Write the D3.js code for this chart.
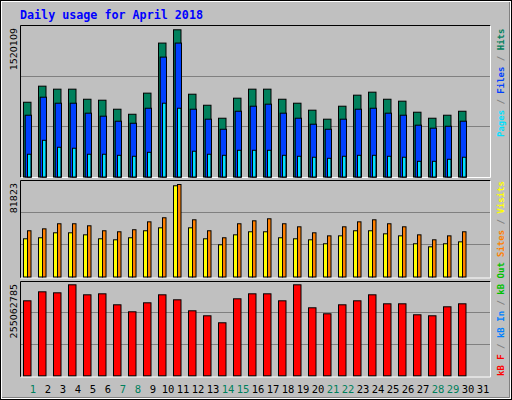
<!DOCTYPE html>
<html><head><meta charset="utf-8">
<script src="https://cdn.jsdelivr.net/npm/d3@7"></script>
<style>body{margin:0;background:#fff}svg{display:block}</style>
</head><body>
<svg id="chart" width="512" height="400"></svg>
<script>
// values, days 1..30
var days = d3.range(1, 32);
var weekends = [1, 7, 8, 14, 15, 21, 22, 28, 29];
var hits = [772000, 938000, 907000, 907000, 803000, 793000, 700000, 648000, 866000, 1383000,
  1520109, 855000, 741000, 607000, 814000, 907000, 907000, 803000, 762000, 690000,
  597000, 731000, 845000, 876000, 803000, 783000, 669000, 607000, 638000, 679000];
var files = [638000, 824000, 762000, 762000, 659000, 628000, 576000, 555000, 710000, 1238000,
  1383000, 700000, 597000, 493000, 679000, 731000, 752000, 659000, 607000, 545000,
  493000, 597000, 700000, 710000, 659000, 638000, 535000, 504000, 524000, 576000];
var pages = [235000, 379000, 307000, 297000, 235000, 235000, 224000, 214000, 255000, 762000,
  710000, 266000, 235000, 224000, 276000, 276000, 276000, 224000, 214000, 204000,
  193000, 214000, 224000, 224000, 214000, 204000, 162000, 162000, 183000, 204000];
var visits = [33800, 34700, 39100, 39100, 37300, 33800, 32900, 34700, 40900, 43500,
  80700, 43500, 33800, 28500, 37300, 40000, 40000, 34700, 33800, 32900,
  29400, 36400, 40900, 40900, 38200, 36400, 29400, 26700, 29400, 31100];
var sites = [40900, 42600, 47100, 47100, 45300, 40900, 40000, 41800, 48800, 52400,
  81823, 50600, 40900, 34700, 47100, 49700, 51500, 47100, 44400, 39100,
  36400, 44400, 48800, 50600, 47100, 44400, 37300, 32900, 36400, 40000];
var kbytes = [210.2, 235.4, 232.6, 255.06, 227.0, 229.8, 199.0, 179.4, 204.6, 227.0,
  213.0, 182.2, 168.2, 148.6, 215.8, 229.8, 229.8, 210.2, 255.06, 190.6,
  173.8, 199.0, 210.2, 227.0, 201.8, 201.8, 171.0, 168.2, 193.4, 201.8].map(function (v) { return v * 1e6; });
var maxLabels = ["1520109", "81823", "255062785"];

var svg = d3.select("#chart");
var mono = "'DejaVu Sans Mono', monospace";

// frame
svg.append("rect").attr("x", 0).attr("y", 0).attr("width", 512).attr("height", 400).attr("fill", "#000");
svg.append("rect").attr("x", 1).attr("y", 1).attr("width", 510).attr("height", 398).attr("fill", "#fff");
svg.append("rect").attr("x", 2).attr("y", 2).attr("width", 508).attr("height", 396).attr("fill", "#c0c0c0");
svg.append("path").attr("d", "M2,397.5H509.5V2").attr("stroke", "#808080").attr("fill", "none");

svg.append("text").attr("x", 20).attr("y", 19).attr("fill", "#0000ff")
  .attr("font-family", mono).attr("font-weight", "bold").attr("font-size", 11.7)
  .text("Daily usage for April 2018");

var x = d3.scaleBand().domain(days).range([23, 488]).paddingInner(0);

var panels = [
  {top: 25, bottom: 177, base: 176.5, peak: 29.3, max: 1520109, label: maxLabels[0],
   series: [[hits, "#00805c", 0, 7.5], [files, "#0040ff", 1.7, 8], [pages, "#00e0ff", 4, 7.5]],
   legend: [["Pages", "#00e0ff"], [" / ", "#808080"], ["Files", "#0040ff"], [" / ", "#808080"], ["Hits", "#00805c"]], legendY: 137},
  {top: 180, bottom: 277.5, base: 276.5, peak: 184, max: 81823, label: maxLabels[1],
   series: [[visits, "#ffff00", 0, 4], [sites, "#ff8000", 4, 7.5]],
   legend: [["Sites", "#ff8000"], [" / ", "#808080"], ["Visits", "#ffff00"]], legendY: 257},
  {top: 281, bottom: 376.5, base: 375.3, peak: 284.3, max: 255062785, label: maxLabels[2],
   series: [[kbytes, "#ff0000", 0, 7.5]],
   legend: [["kB F", "#ff0000"], [" / ", "#808080"], ["kB In", "#0080ff"], [" / ", "#808080"], ["kB Out", "#00c000"]], legendY: 376}
];

panels.forEach(function (p) {
  var g = svg.append("g");
  g.append("rect").attr("x", 20.5).attr("y", p.top + 0.5).attr("width", 470).attr("height", p.bottom - p.top)
    .attr("fill", "#c0c0c0").attr("stroke", "none");
  g.append("path").attr("d", "M20.5," + (p.bottom + 0.5) + "V" + (p.top + 0.5) + "H490.5").attr("stroke", "#000").attr("fill", "none");
  g.append("path").attr("d", "M20.5," + (p.bottom + 0.5) + "H490.5V" + (p.top + 0.5)).attr("stroke", "#fff").attr("fill", "none");
  var h = p.base - p.top;
  [1, 2].forEach(function (k) {
    var gy = Math.round(p.base - h * k / 3) + 0.5;
    g.append("line").attr("x1", 21).attr("x2", 490).attr("y1", gy).attr("y2", gy).attr("stroke", "#808080");
  });
  var y = d3.scaleLinear().domain([0, p.max]).range([p.base, p.peak]);
  p.series.forEach(function (s) {
    g.selectAll(null).data(s[0]).enter().append("rect")
      .attr("x", function (d, i) { return x(i + 1) + s[2] + 0.5; })
      .attr("y", function (d) { return y(d) + 0.5; })
      .attr("width", s[3] - s[2])
      .attr("height", function (d) { return p.base - y(d); })
      .attr("fill", s[1]).attr("stroke", "#000").attr("stroke-width", 1);
  });
  g.append("text").attr("transform", "translate(17," + (p.top + 3) + ") rotate(-90)")
    .attr("text-anchor", "end").attr("font-family", "'DejaVu Sans', sans-serif").attr("font-size", 9.5)
    .attr("fill", "#000").text(p.label);
  var t = g.append("text").attr("transform", "translate(504," + p.legendY + ") rotate(-90)")
    .attr("font-family", mono).attr("font-weight", "bold").attr("font-size", 9);
  p.legend.forEach(function (l) { t.append("tspan").attr("fill", l[1]).text(l[0]); });
});

svg.selectAll(".day").data(days).enter().append("text")
  .attr("x", function (d) { return x(d) + 10; })
  .attr("y", 393).attr("text-anchor", "middle")
  .attr("font-family", mono).attr("font-size", 10.5)
  .attr("fill", function (d) { return weekends.indexOf(d) >= 0 ? "#00805c" : "#000"; })
  .text(function (d) { return d; });
</script>
</body></html>
